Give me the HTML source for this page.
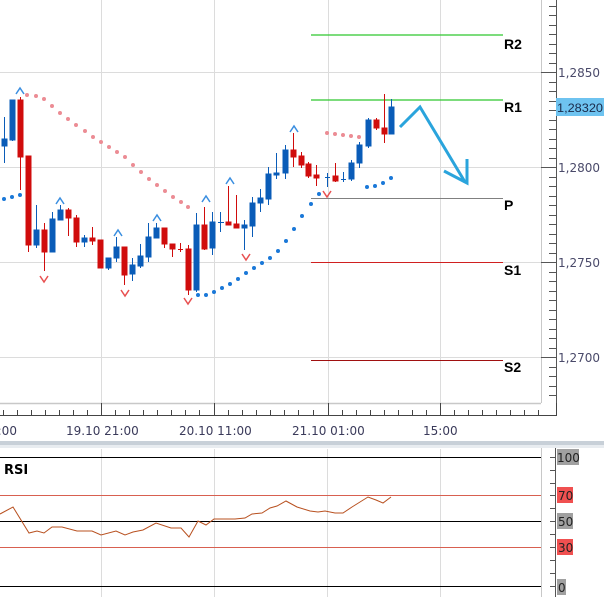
<!DOCTYPE html>
<html><head><meta charset="utf-8"><style>
html,body{margin:0;padding:0;background:#fff;}
svg{display:block;font-family:"DejaVu Sans","Liberation Sans",sans-serif;}
</style></head><body>
<svg width="604" height="597" viewBox="0 0 604 597" xmlns="http://www.w3.org/2000/svg">
<rect width="604" height="597" fill="#fff"/>
<g stroke="#dcdcdc" stroke-width="1">
<line x1="101.5" y1="0" x2="101.5" y2="403"/><line x1="214.5" y1="0" x2="214.5" y2="403"/>
<line x1="328.5" y1="0" x2="328.5" y2="403"/><line x1="440.5" y1="0" x2="440.5" y2="403"/>
<line x1="0" y1="72.5" x2="541" y2="72.5"/><line x1="0" y1="167.5" x2="541" y2="167.5"/>
<line x1="0" y1="262.5" x2="541" y2="262.5"/><line x1="0" y1="357.5" x2="541" y2="357.5"/>
</g>
<line x1="541.5" y1="0" x2="541.5" y2="403" stroke="#c8c8c8"/>
<line x1="0" y1="403.5" x2="541" y2="403.5" stroke="#c8c8c8" stroke-width="1.5"/>
<line x1="311" y1="35" x2="503" y2="35" stroke="#2ec82e" stroke-width="1.2"/>
<line x1="311" y1="100" x2="503" y2="100" stroke="#2ec82e" stroke-width="1.2"/>
<line x1="311" y1="198.5" x2="503" y2="198.5" stroke="#808080"/>
<line x1="311" y1="262.5" x2="503" y2="262.5" stroke="#d02020"/>
<line x1="311" y1="360.5" x2="503" y2="360.5" stroke="#a01010"/>
<g font-size="14" fill="#000" font-family="Liberation Sans, sans-serif" font-weight="bold">
<text x="504" y="49">R2</text><text x="504" y="112">R1</text><text x="504" y="210">P</text>
<text x="504" y="275">S1</text><text x="504" y="372">S2</text>
</g>
<g fill="#ec8c94">
<circle cx="27" cy="95" r="2"/><circle cx="36" cy="96" r="2"/><circle cx="44" cy="99" r="2"/><circle cx="52" cy="106" r="2"/><circle cx="60" cy="113" r="2"/><circle cx="68" cy="119" r="2"/><circle cx="76" cy="125" r="2"/><circle cx="85" cy="131" r="2"/><circle cx="93" cy="137" r="2"/><circle cx="101" cy="142" r="2"/><circle cx="109" cy="147" r="2"/><circle cx="117" cy="152" r="2"/><circle cx="125" cy="157" r="2"/><circle cx="133" cy="165" r="2"/><circle cx="141" cy="172" r="2"/><circle cx="149" cy="179" r="2"/><circle cx="157" cy="185" r="2"/><circle cx="165" cy="191" r="2"/><circle cx="173" cy="197" r="2"/><circle cx="181" cy="202" r="2"/><circle cx="188" cy="207" r="2"/>
<circle cx="327" cy="133" r="2"/><circle cx="335" cy="134" r="2"/><circle cx="343" cy="135" r="2"/><circle cx="351" cy="136" r="2"/><circle cx="359" cy="137" r="2"/>
</g>
<g fill="#1a78d8">
<circle cx="4" cy="199" r="2"/><circle cx="12" cy="197" r="2"/><circle cx="20" cy="195" r="2"/>
<circle cx="198" cy="295" r="2"/><circle cx="206" cy="295" r="2"/><circle cx="214" cy="292" r="2"/><circle cx="222" cy="288" r="2"/><circle cx="230" cy="284" r="2"/><circle cx="238" cy="279" r="2"/><circle cx="246" cy="273" r="2"/><circle cx="254" cy="268" r="2"/><circle cx="262" cy="263" r="2"/><circle cx="270" cy="258" r="2"/><circle cx="278" cy="251" r="2"/><circle cx="286" cy="241" r="2"/><circle cx="294" cy="229" r="2"/><circle cx="302" cy="216" r="2"/><circle cx="311" cy="204" r="2"/><circle cx="319" cy="194" r="2"/>
<circle cx="367" cy="187" r="2"/><circle cx="375" cy="186" r="2"/><circle cx="383" cy="183" r="2"/><circle cx="391" cy="178" r="2"/>
</g>
<g stroke-width="1">
<g stroke="#0a5cb8" fill="#0a5cb8">
<line x1="4.5" y1="117" x2="4.5" y2="163"/><rect x="2" y="139" width="5" height="7"/>
<line x1="12.5" y1="100" x2="12.5" y2="141"/><rect x="10" y="100" width="5" height="40"/>
<line x1="36.5" y1="205" x2="36.5" y2="248"/><rect x="34" y="230" width="5" height="15"/>
<line x1="52.5" y1="212" x2="52.5" y2="252"/><rect x="50" y="219" width="5" height="33"/>
<line x1="60.5" y1="205" x2="60.5" y2="220"/><rect x="58" y="210" width="5" height="10"/>
<line x1="84.5" y1="235" x2="84.5" y2="247"/><rect x="82" y="238" width="5" height="4"/>
<line x1="108.5" y1="258" x2="108.5" y2="270"/><rect x="106" y="258" width="5" height="10"/>
<line x1="116.5" y1="237" x2="116.5" y2="262"/><rect x="114" y="247" width="5" height="11"/>
<line x1="132.5" y1="258" x2="132.5" y2="281"/><rect x="130" y="265" width="5" height="9"/>
<line x1="140.5" y1="244" x2="140.5" y2="268"/><rect x="138" y="256" width="5" height="10"/>
<line x1="148.5" y1="223" x2="148.5" y2="262"/><rect x="146" y="237" width="5" height="20"/>
<line x1="156.5" y1="223" x2="156.5" y2="238"/><rect x="154" y="228" width="5" height="10"/>
<line x1="196.5" y1="213" x2="196.5" y2="292"/><rect x="194" y="225" width="5" height="65"/>
<line x1="212.5" y1="212" x2="212.5" y2="255"/><rect x="210" y="222" width="5" height="26"/>
<line x1="220.5" y1="212" x2="220.5" y2="232"/><line x1="218" y1="222.5" x2="224" y2="222.5"/>
<line x1="244.5" y1="220" x2="244.5" y2="250"/><rect x="242" y="225" width="5" height="3"/>
<line x1="252.5" y1="197" x2="252.5" y2="237"/><rect x="250" y="203" width="5" height="23"/>
<line x1="260.5" y1="189" x2="260.5" y2="212"/><rect x="258" y="198" width="5" height="5"/>
<line x1="268.5" y1="167" x2="268.5" y2="205"/><rect x="266" y="174" width="5" height="25"/>
<line x1="276.5" y1="153" x2="276.5" y2="179"/><rect x="274" y="173" width="5" height="2"/>
<line x1="285.5" y1="145" x2="285.5" y2="179"/><rect x="283" y="150" width="5" height="23"/>
<line x1="327.5" y1="173" x2="327.5" y2="187"/><line x1="325" y1="177.5" x2="330" y2="177.5"/>
<line x1="343.5" y1="172" x2="343.5" y2="182"/><line x1="341" y1="179.5" x2="346" y2="179.5"/>
<line x1="351.5" y1="160" x2="351.5" y2="181"/><rect x="349" y="163" width="5" height="16"/>
<line x1="359.5" y1="142" x2="359.5" y2="168"/><rect x="357" y="145" width="5" height="18"/>
<line x1="368.5" y1="118" x2="368.5" y2="148"/><rect x="366" y="120" width="5" height="26"/>
<line x1="391.5" y1="99" x2="391.5" y2="134"/><rect x="389" y="107" width="5" height="27"/>
</g>
<g stroke="#d00c0c" fill="#d00c0c">
<line x1="20.5" y1="97" x2="20.5" y2="190"/><rect x="18" y="100" width="5" height="57"/>
<line x1="28.5" y1="156" x2="28.5" y2="252"/><rect x="26" y="156" width="5" height="89"/>
<line x1="44.5" y1="223" x2="44.5" y2="271"/><rect x="42" y="230" width="5" height="22"/>
<line x1="68.5" y1="208" x2="68.5" y2="236"/><rect x="66" y="210" width="5" height="8"/>
<line x1="76.5" y1="215" x2="76.5" y2="247"/><rect x="74" y="218" width="5" height="24"/>
<line x1="92.5" y1="227" x2="92.5" y2="245"/><rect x="90" y="238" width="5" height="3"/>
<line x1="100.5" y1="240" x2="100.5" y2="268"/><rect x="98" y="240" width="5" height="28"/>
<line x1="124.5" y1="247" x2="124.5" y2="285"/><rect x="122" y="247" width="5" height="28"/>
<line x1="164.5" y1="228" x2="164.5" y2="248"/><rect x="162" y="228" width="5" height="16"/>
<line x1="172.5" y1="244" x2="172.5" y2="257"/><rect x="170" y="244" width="5" height="5"/>
<line x1="180.5" y1="243" x2="180.5" y2="252"/><line x1="178" y1="249.5" x2="183" y2="249.5"/>
<line x1="188.5" y1="245" x2="188.5" y2="295"/><rect x="186" y="249" width="5" height="41"/>
<line x1="204.5" y1="207" x2="204.5" y2="250"/><rect x="202" y="225" width="5" height="24"/>
<line x1="228.5" y1="186" x2="228.5" y2="225"/><rect x="226" y="222" width="5" height="3"/>
<line x1="236.5" y1="195" x2="236.5" y2="228"/><rect x="234" y="224" width="5" height="4"/>
<line x1="293.5" y1="133" x2="293.5" y2="167"/><rect x="291" y="150" width="5" height="7"/>
<line x1="301.5" y1="152" x2="301.5" y2="168"/><rect x="299" y="156" width="5" height="9"/>
<line x1="308.5" y1="162" x2="308.5" y2="178"/><rect x="306" y="164" width="5" height="12"/>
<line x1="316.5" y1="165" x2="316.5" y2="186"/><rect x="314" y="175" width="5" height="3"/>
<line x1="335.5" y1="163" x2="335.5" y2="182"/><rect x="333" y="176" width="5" height="5"/>
<line x1="376.5" y1="118" x2="376.5" y2="130"/><rect x="374" y="120" width="5" height="8"/>
<line x1="384.5" y1="94" x2="384.5" y2="143"/><rect x="382" y="128" width="5" height="6"/>
</g>
</g>
<g fill="none" stroke="#3a8ee0" stroke-width="1.5">
<path d="M16 94 L20 88 L24 94"/><path d="M56 204 L60 198 L64 204"/><path d="M114 236 L118 230 L122 236"/><path d="M153 221 L157 215 L161 221"/><path d="M202 202 L206 196 L210 202"/><path d="M226 184 L230 178 L234 184"/><path d="M290 132 L294 126 L298 132"/>
</g>
<g fill="none" stroke="#e85050" stroke-width="1.5">
<path d="M40 276 L44 282 L48 276"/><path d="M121 290 L125 296 L129 290"/><path d="M184 298 L188 304 L192 298"/><path d="M242 254 L246 260 L250 254"/><path d="M323 191 L327 197 L331 191"/>
</g>
<g fill="none" stroke="#2aa4dc" stroke-width="3" stroke-linejoin="miter">
<polyline points="400,127 420,107 465,182"/>
<polyline points="444,171 467,183 467,159"/>
</g>
<line x1="556.5" y1="0" x2="556.5" y2="403" stroke="#555"/>
<g stroke="#555">
<line x1="541" y1="72.5" x2="556" y2="72.5"/><line x1="541" y1="167.5" x2="556" y2="167.5"/><line x1="541" y1="262.5" x2="556" y2="262.5"/><line x1="541" y1="357.5" x2="556" y2="357.5"/>
<line x1="549" y1="6.5" x2="556" y2="6.5"/><line x1="549" y1="15.5" x2="556" y2="15.5"/><line x1="549" y1="25.5" x2="556" y2="25.5"/><line x1="549" y1="34.5" x2="556" y2="34.5"/><line x1="549" y1="44.5" x2="556" y2="44.5"/><line x1="549" y1="53.5" x2="556" y2="53.5"/><line x1="549" y1="63.5" x2="556" y2="63.5"/>
<line x1="549" y1="82.5" x2="556" y2="82.5"/><line x1="549" y1="91.5" x2="556" y2="91.5"/><line x1="549" y1="101.5" x2="556" y2="101.5"/><line x1="549" y1="110.5" x2="556" y2="110.5"/><line x1="549" y1="120.5" x2="556" y2="120.5"/><line x1="549" y1="129.5" x2="556" y2="129.5"/><line x1="549" y1="139.5" x2="556" y2="139.5"/><line x1="549" y1="148.5" x2="556" y2="148.5"/><line x1="549" y1="158.5" x2="556" y2="158.5"/>
<line x1="549" y1="177.5" x2="556" y2="177.5"/><line x1="549" y1="186.5" x2="556" y2="186.5"/><line x1="549" y1="196.5" x2="556" y2="196.5"/><line x1="549" y1="205.5" x2="556" y2="205.5"/><line x1="549" y1="215.5" x2="556" y2="215.5"/><line x1="549" y1="224.5" x2="556" y2="224.5"/><line x1="549" y1="234.5" x2="556" y2="234.5"/><line x1="549" y1="243.5" x2="556" y2="243.5"/><line x1="549" y1="253.5" x2="556" y2="253.5"/>
<line x1="549" y1="272.5" x2="556" y2="272.5"/><line x1="549" y1="281.5" x2="556" y2="281.5"/><line x1="549" y1="291.5" x2="556" y2="291.5"/><line x1="549" y1="300.5" x2="556" y2="300.5"/><line x1="549" y1="310.5" x2="556" y2="310.5"/><line x1="549" y1="319.5" x2="556" y2="319.5"/><line x1="549" y1="329.5" x2="556" y2="329.5"/><line x1="549" y1="338.5" x2="556" y2="338.5"/><line x1="549" y1="348.5" x2="556" y2="348.5"/>
<line x1="549" y1="367.5" x2="556" y2="367.5"/><line x1="549" y1="376.5" x2="556" y2="376.5"/><line x1="549" y1="386.5" x2="556" y2="386.5"/><line x1="549" y1="395.5" x2="556" y2="395.5"/>
</g>
<g font-size="12" fill="#4a4a6a">
<text x="558" y="77">1,2850</text><text x="558" y="172">1,2800</text><text x="558" y="267">1,2750</text><text x="558" y="362">1,2700</text>
</g>
<rect x="556" y="98" width="48" height="18" fill="#6ec3f0"/>
<text x="557" y="112" font-size="12" fill="#1a2a4a" font-family="Liberation Sans, sans-serif" textLength="46" lengthAdjust="spacingAndGlyphs">1,28320</text>
<line x1="0" y1="415.5" x2="556" y2="415.5" stroke="#444"/>
<line x1="556.5" y1="403" x2="556.5" y2="416" stroke="#444"/>
<g stroke="#444">
<line x1="101.5" y1="403" x2="101.5" y2="415"/><line x1="214.5" y1="403" x2="214.5" y2="415"/><line x1="328.5" y1="403" x2="328.5" y2="415"/><line x1="440.5" y1="403" x2="440.5" y2="415"/>
<line x1="3.5" y1="410" x2="3.5" y2="415"/><line x1="17.5" y1="410" x2="17.5" y2="415"/><line x1="31.5" y1="410" x2="31.5" y2="415"/><line x1="45.5" y1="410" x2="45.5" y2="415"/><line x1="59.5" y1="410" x2="59.5" y2="415"/><line x1="73.5" y1="410" x2="73.5" y2="415"/><line x1="87.5" y1="410" x2="87.5" y2="415"/>
<line x1="115.5" y1="410" x2="115.5" y2="415"/><line x1="129.5" y1="410" x2="129.5" y2="415"/><line x1="143.5" y1="410" x2="143.5" y2="415"/><line x1="157.5" y1="410" x2="157.5" y2="415"/><line x1="171.5" y1="410" x2="171.5" y2="415"/><line x1="185.5" y1="410" x2="185.5" y2="415"/><line x1="199.5" y1="410" x2="199.5" y2="415"/>
<line x1="228.5" y1="410" x2="228.5" y2="415"/><line x1="242.5" y1="410" x2="242.5" y2="415"/><line x1="256.5" y1="410" x2="256.5" y2="415"/><line x1="270.5" y1="410" x2="270.5" y2="415"/><line x1="284.5" y1="410" x2="284.5" y2="415"/><line x1="298.5" y1="410" x2="298.5" y2="415"/><line x1="313.5" y1="410" x2="313.5" y2="415"/>
<line x1="342.5" y1="410" x2="342.5" y2="415"/><line x1="356.5" y1="410" x2="356.5" y2="415"/><line x1="370.5" y1="410" x2="370.5" y2="415"/><line x1="384.5" y1="410" x2="384.5" y2="415"/><line x1="398.5" y1="410" x2="398.5" y2="415"/><line x1="412.5" y1="410" x2="412.5" y2="415"/><line x1="426.5" y1="410" x2="426.5" y2="415"/>
<line x1="454.5" y1="410" x2="454.5" y2="415"/><line x1="468.5" y1="410" x2="468.5" y2="415"/><line x1="482.5" y1="410" x2="482.5" y2="415"/><line x1="496.5" y1="410" x2="496.5" y2="415"/><line x1="510.5" y1="410" x2="510.5" y2="415"/><line x1="524.5" y1="410" x2="524.5" y2="415"/><line x1="538.5" y1="410" x2="538.5" y2="415"/>
</g>
<g font-size="12" fill="#3a3a5a">
<text x="-10" y="435">0:00</text><text x="66" y="435">19.10 21:00</text><text x="179" y="435">20.10 11:00</text><text x="292" y="435">21.10 01:00</text><text x="423" y="435">15:00</text>
</g>
<rect x="0" y="441" width="604" height="4" fill="#c8d0d8"/>
<rect x="0" y="445" width="604" height="3" fill="#e8ecf0"/>
<g stroke="#dcdcdc">
<line x1="101.5" y1="449" x2="101.5" y2="597"/><line x1="214.5" y1="449" x2="214.5" y2="597"/><line x1="327.5" y1="449" x2="327.5" y2="597"/><line x1="440.5" y1="449" x2="440.5" y2="597"/>
</g>
<line x1="541.5" y1="448" x2="541.5" y2="597" stroke="#c8c8c8"/>
<line x1="0" y1="457.5" x2="541" y2="457.5" stroke="#000"/>
<line x1="0" y1="521.5" x2="541" y2="521.5" stroke="#000"/>
<line x1="0" y1="586.5" x2="541" y2="586.5" stroke="#000"/>
<line x1="0" y1="495.5" x2="541" y2="495.5" stroke="#d86050"/>
<line x1="0" y1="547.5" x2="541" y2="547.5" stroke="#d86050"/>
<text x="4" y="474" font-size="13" font-weight="bold" fill="#000">RSI</text>
<polyline fill="none" stroke="#b8501f" stroke-width="1" points="0,514 13,507 29,533 37,531 44,533 52,527 62,527 77,531 92,531 101,535 116,531 125,535 133,532 143,530 156,523 171,528 181,528 189,537 198,521 206,525 214,519 235,519 245,518 252,514 262,513 270,508 277,506 286,501 297,507 310,511 318,512 325,511 335,513 343,513 352,507 360,502 368,497 376,500 383,503 391,497"/>
<line x1="555.5" y1="448" x2="555.5" y2="597" stroke="#555"/>
<g stroke="#555">
<line x1="550" y1="457.5" x2="555" y2="457.5"/><line x1="550" y1="470.5" x2="555" y2="470.5"/><line x1="550" y1="483.5" x2="555" y2="483.5"/><line x1="550" y1="495.5" x2="555" y2="495.5"/><line x1="550" y1="508.5" x2="555" y2="508.5"/><line x1="550" y1="521.5" x2="555" y2="521.5"/><line x1="550" y1="534.5" x2="555" y2="534.5"/><line x1="550" y1="547.5" x2="555" y2="547.5"/><line x1="550" y1="560.5" x2="555" y2="560.5"/><line x1="550" y1="573.5" x2="555" y2="573.5"/><line x1="550" y1="586.5" x2="555" y2="586.5"/>
</g>
<rect x="557" y="449" width="22" height="16" fill="#a0a0a0"/>
<rect x="557" y="487" width="16" height="16" fill="#f05050"/>
<rect x="557" y="513" width="16" height="16" fill="#a0a0a0"/>
<rect x="557" y="539" width="16" height="16" fill="#f05050"/>
<rect x="557" y="579" width="9" height="16" fill="#a0a0a0"/>
<g font-size="12" fill="#222">
<text x="557" y="462">100</text><text x="558" y="500">70</text><text x="558" y="526">50</text><text x="558" y="552">30</text><text x="558" y="592">0</text>
</g>
</svg>
</body></html>
